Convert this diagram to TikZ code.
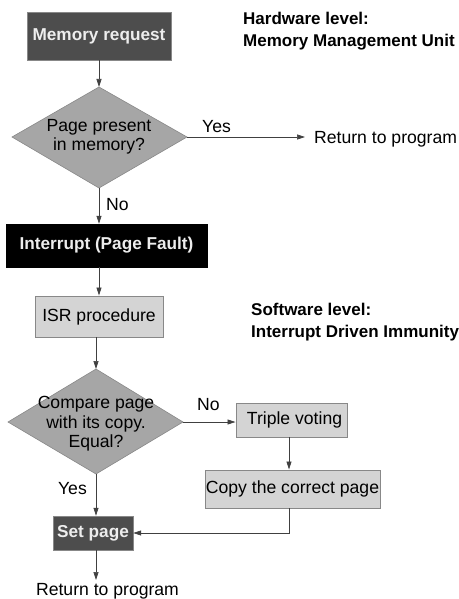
\documentclass[tikz,border=0pt]{standalone}
\usepackage{fontspec}
\setmainfont{Liberation Sans}
\usetikzlibrary{shapes.geometric,arrows.meta}
\definecolor{darkbox}{HTML}{4D4D4D}
\definecolor{diamfill}{HTML}{A6A6A6}
\definecolor{lightbox}{HTML}{D4D4D4}
\definecolor{edgegray}{HTML}{888888}
\tikzset{
  base/.style={font=\fontsize{17.6}{19.5}\selectfont, inner sep=0pt, align=center},
  darknode/.style={base, draw=edgegray, fill=darkbox, text=white!93!black, font=\fontsize{17.2}{19.5}\selectfont\bfseries},
  blacknode/.style={base, draw=black, fill=black, text=white!93!black, font=\fontsize{17.2}{19.5}\selectfont\bfseries},
  lightnode/.style={base, draw=edgegray, line width=0.9pt, fill=lightbox},
  decision/.style={diamond, draw=edgegray, fill=diamfill, line width=0.6pt},
  plain/.style={base},
  title/.style={base, anchor=base west, font=\fontsize{17}{22}\selectfont\bfseries},
  conn/.style={draw=black!75, line width=0.7pt, -{Triangle[length=8pt,width=5pt]}},
  connline/.style={draw=black!75, line width=0.7pt}
}
\begin{document}
\begin{tikzpicture}[x=1pt,y=-1pt]
\useasboundingbox (0,0) rectangle (458,599);
% nodes
\node[darknode, minimum width=144pt, minimum height=48pt] (memreq) at (99,36) {Memory request};
\node[title] (hw1) at (243,25) {Hardware level:};
\node[title] (hw2) at (243,47) {Memory Management Unit};
\path[decision] (99,87) -- (187,137) -- (99,188) -- (12,137) -- cycle;
\node[plain, minimum width=175pt, minimum height=101pt] (d1) at (99,137) {Page present\\in memory?};
\node[plain, anchor=west] (ret1) at (314,139) {Return to program};
\node[blacknode, minimum width=201pt, minimum height=43pt] (intr) at (106.5,245.5) {Interrupt (Page Fault)};
\node[lightnode, minimum width=128pt, minimum height=41pt] (isr) at (99,316.5) {ISR procedure};
\node[title] (sw1) at (251,315) {Software level:};
\node[title] (sw2) at (251,337) {Interrupt Driven Immunity};
\path[decision] (96,369) -- (183,422) -- (96,474) -- (8,422) -- cycle;
\node[plain, minimum width=175pt, minimum height=105pt] (d2) at (96,424) {Compare page\\with its copy.\\Equal?};
\node[lightnode, minimum width=111pt, minimum height=34pt] (tv) at (291.5,420) {\hspace{6pt}Triple voting};
\node[lightnode, minimum width=175pt, minimum height=38pt] (copy) at (292.5,489) {Copy the correct page};
\node[darknode, minimum width=80pt, minimum height=34pt] (setp) at (93,533) {Set page};
\node[plain, anchor=base] (ret2) at (107.5,595) {Return to program};
% labels
\node[plain, anchor=base west] (yes1) at (202,132) {Yes};
\node[plain, anchor=base west] (no1) at (106,210) {No};
\node[plain, anchor=base west] (no2) at (197,410) {No};
\node[plain, anchor=base east] (yes2) at (87,494) {Yes};
% connectors
\draw[conn] (memreq.south -| d1.north) -- (99,87);
\draw[conn, shorten >=9pt] (187,137) -- (ret1.west |- 187,137);
\draw[conn] (99,188) -- (intr.north -| 99,188);
\draw[conn] (intr.south -| isr.south) -- (isr.north);
\draw[conn] (isr.south -| 96,369) -- (96,369);
\draw[conn] (183,422) -- (tv.west |- 183,422);
\draw[conn] (tv.south -| 289,0) -- (copy.north -| 289,0);
\draw[conn] (96,474) -- (setp.north -| 96,474);
\draw[conn] (copy.south -| 289,0) |- (setp.east);
\draw[conn] (setp.south -| 96,474) -- (96,580);
\end{tikzpicture}
\end{document}
